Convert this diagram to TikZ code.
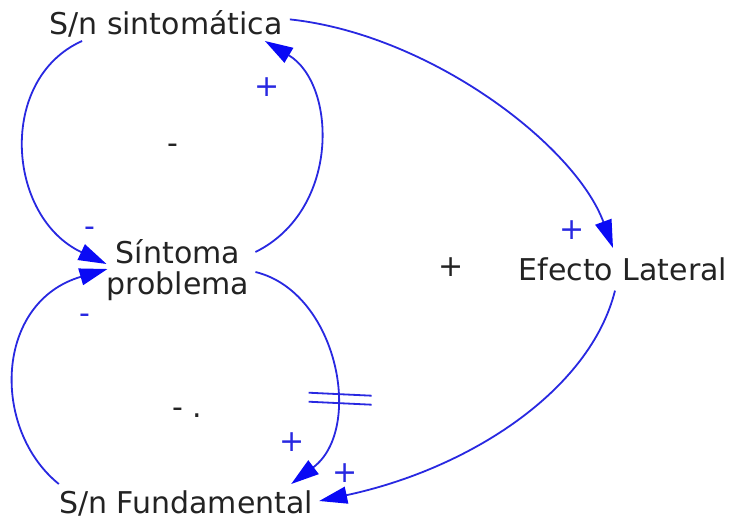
\documentclass[tikz,border=0pt]{standalone}
\usepackage{fontspec}
\setmainfont{DejaVu Sans}
\usetikzlibrary{arrows.meta,calc}

\definecolor{linkblue}{RGB}{40,40,225}
\definecolor{tipblue}{RGB}{10,10,245}
\definecolor{textgray}{RGB}{35,35,35}

\begin{document}
\begin{tikzpicture}[x=1pt, y=-1pt,
  var/.style={font=\fontsize{30}{31}\selectfont, text=textgray, inner sep=0pt},
  sign/.style={font=\fontsize{30}{30}\selectfont, text=linkblue, inner sep=0pt},
  loopsign/.style={font=\fontsize{30}{30}\selectfont, text=textgray, inner sep=0pt},
  link/.style={-{Triangle[length=28pt,width=17pt,color=tipblue]}, draw=linkblue, line width=1.8pt}]

  % Canvas with the margins of the reference
  \useasboundingbox[fill=white] (0,0) rectangle (733,521);

  % Variables of the diagram
  \node[var, anchor=base] (sint) at (166,35) {S/n sintomática};
  \node[var, align=center] (sintoma) at (178,270) {Síntoma\\problema};
  \node[var, anchor=base] (efecto) at (623,280) {Efecto Lateral};
  \node[var, anchor=base] (fund) at (186,513) {S/n Fundamental};

  % Upper (balancing) loop
  \draw[link] ($(sint.south west)+(33,3)$) .. controls +(-85,38) and +(-100,-47) .. ($(sintoma.west)+(0,-6)$);
  \draw[link] ($(sintoma.east)+(6,-18)$) .. controls +(85,-42) and +(72,43) .. ($(sint.south east)+(-18,3)$);

  % Side effect chain
  \draw[link] ($(sint.east)+(7,-5)$) .. controls +(140,15) and +(-38,-103) .. ($(efecto.north)+(-10,-9)$);
  \draw[link] ($(efecto.south)+(-8,10)$) .. controls +(-25,100) and +(150,-32) .. ($(fund.east)+(6,-2)$);

  % Lower loop, with the delay on the fundamental solution
  \draw[link] ($(sintoma.east)+(6,2)$) .. controls +(82,20) and +(73,-55) .. coordinate[pos=0.62] (delay) ($(fund.north east)+(-22,-6)$);
  \draw[link] ($(fund.north west)+(0,-6)$) .. controls +(-68,-55) and +(-113,33) .. ($(sintoma.west)+(1,-1)$);

  % Delay mark
  \draw[linkblue, line width=1.8pt] ($(delay)+(-25,-4)$) -- ($(delay)+(38,-1)$);
  \draw[linkblue, line width=1.8pt] ($(delay)+(-25,5)$) -- ($(delay)+(38,8)$);

  % Link polarities
  \node[sign] (plusup) at (267,87) {+};
  \node[sign, anchor=base] (minusin) at (90,236.5) {-};
  \node[sign, anchor=base] (minusfund) at (85,323.5) {-};
  \node[sign] (plusefecto) at (572,230) {+};
  \node[sign] (plusdelay) at (292,442) {+};
  \node[sign] (pluslateral) at (345,473) {+};

  % Loop polarities
  \node[loopsign, anchor=base] (loopup) at (173,153.5) {-};
  \node[loopsign, anchor=base] (loopdown) at (187,417) {- .};
  \node[loopsign] (loopside) at (451,267) {+};

\end{tikzpicture}
\end{document}
